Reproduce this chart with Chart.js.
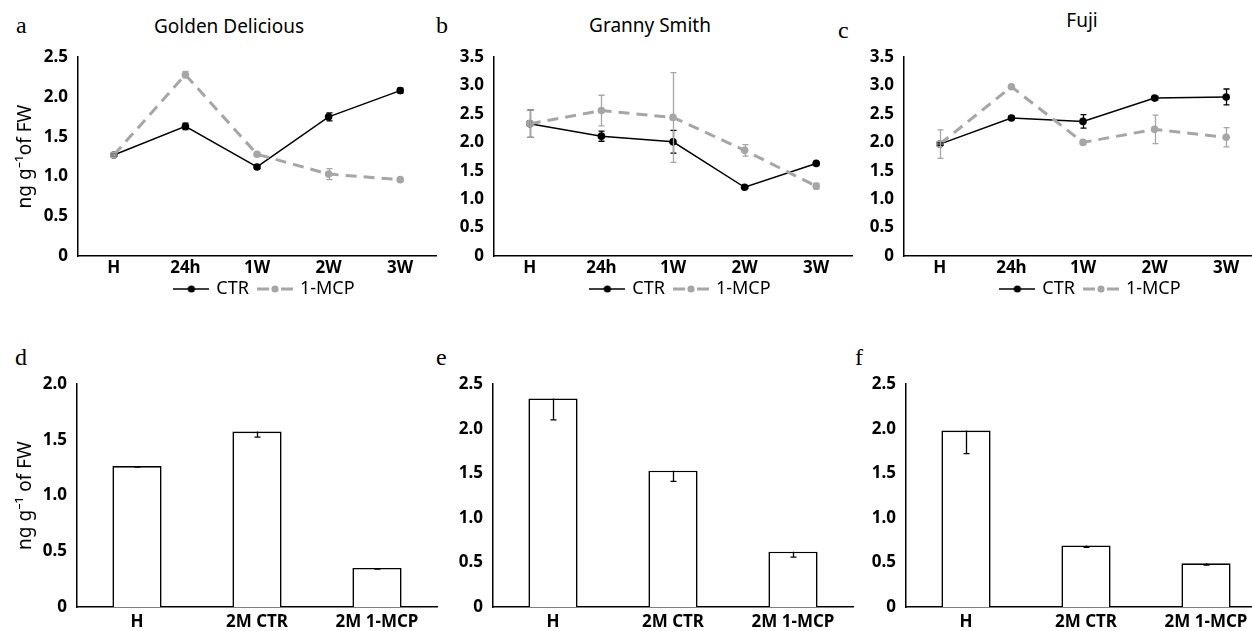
<!DOCTYPE html>
<html>
<head>
<meta charset="utf-8">
<script src="https://cdn.jsdelivr.net/npm/chart.js@4.4.0/dist/chart.umd.min.js"></script>
<style>
  html, body { margin: 0; padding: 0; background: #fff; width: 1252px; height: 631px; overflow: hidden; position: relative; }
  .panel { position: absolute; }
  .letter { position: absolute; font-family: 'Liberation Serif', serif; font-size: 24px; line-height: 1; color: #000; }
  .title { position: absolute; font-family: 'Noto Sans', sans-serif; font-size: 19px; line-height: 1; color: #000; transform: translateX(-50%); white-space: nowrap; }
</style>
</head>
<body>
<div class="letter" style="left:16px; top:13px;">a</div>
<div class="letter" style="left:436px; top:13px;">b</div>
<div class="letter" style="left:838px; top:18px;">c</div>
<div class="letter" style="left:15px; top:345px;">d</div>
<div class="letter" style="left:436px; top:345px;">e</div>
<div class="letter" style="left:855px; top:345px;">f</div>

<div class="title" style="left:229px; top:17px;">Golden Delicious</div>
<div class="title" style="left:650px; top:16px;">Granny Smith</div>
<div class="title" style="left:1082px; top:11px;">Fuji</div>

<canvas class="panel" id="chartA" width="440" height="283" style="left:0px; top:37px;"></canvas>
<canvas class="panel" id="chartB" width="440" height="283" style="left:416px; top:37px;"></canvas>
<canvas class="panel" id="chartC" width="440" height="283" style="left:826px; top:37px;"></canvas>
<canvas class="panel" id="chartD" width="441" height="267" style="left:0px; top:364px;"></canvas>
<canvas class="panel" id="chartE" width="441" height="267" style="left:416px; top:364px;"></canvas>
<canvas class="panel" id="chartF" width="441" height="267" style="left:829px; top:364px;"></canvas>

<script>
// ===== DATA =====
const timeLabels = ['H', '24h', '1W', '2W', '3W'];
const storeLabels = ['H', '2M CTR', '2M 1-MCP'];
const seriesNames = ['CTR', '1-MCP'];

// Golden Delicious
const gdCtr = [1.27, 1.63, 1.12, 1.75, 2.08];
const gdCtrErr = [0.01, 0.04, 0.02, 0.05, 0.03];
const gdMcp = [1.27, 2.28, 1.28, 1.03, 0.96];
const gdMcpErr = [0.01, 0.04, 0.02, 0.07, 0.02];

// Granny Smith
const gsCtr = [2.33, 2.11, 2.01, 1.21, 1.63];
const gsCtrErr = [0.24, 0.09, 0.20, 0.02, 0.02];
const gsMcp = [2.33, 2.56, 2.44, 1.86, 1.23];
const gsMcpErr = [0.24, 0.27, 0.79, 0.10, 0.05];

// Fuji
const fjCtr = [1.97, 2.43, 2.37, 2.78, 2.80];
const fjCtrErr = [0.02, 0.03, 0.12, 0.03, 0.14];
const fjMcp = [1.97, 2.98, 2.00, 2.23, 2.09];
const fjMcpErr = [0.25, 0.02, 0.03, 0.25, 0.17];

// sau 2 tháng bảo quản (bar)
const gdBar = [1.265, 1.575, 0.35];
const gdBarErr = [0.01, 0.05, 0.01];
const gsBar = [2.34, 1.53, 0.62];
const gsBarErr = [0.24, 0.12, 0.06];
const fjBar = [1.98, 0.69, 0.49];
const fjBarErr = [0.26, 0.02, 0.02];

const GRAY = '#a6a6a6';
const FONT = "'Noto Sans', sans-serif";

Chart.defaults.font.family = FONT;
Chart.defaults.color = '#000';
Chart.defaults.animation = false;

// ===== ERROR BARS =====
const errorBars = {
  id: 'errorBars',
  afterDatasetsDraw(chart) {
    const ctx = chart.ctx;
    const y = chart.scales.y;
    chart.data.datasets.forEach((ds, i) => {
      if (!ds.errors) return;
      const meta = chart.getDatasetMeta(i);
      ctx.save();
      ctx.strokeStyle = ds.errorColor;
      ctx.lineWidth = 1.3;
      ctx.setLineDash([]);
      meta.data.forEach((el, j) => {
        const v = ds.data[j], e = ds.errors[j];
        const top = ds.minusOnly ? y.getPixelForValue(v) : y.getPixelForValue(v + e);
        const bot = y.getPixelForValue(v - e);
        const x = Math.round(el.x) + 0.5;
        ctx.beginPath();
        ctx.moveTo(x, top); ctx.lineTo(x, bot);
        if (!ds.minusOnly) { ctx.moveTo(x - 3, top); ctx.lineTo(x + 3, top); }
        ctx.moveTo(x - 3, bot); ctx.lineTo(x + 3, bot);
        ctx.stroke();
      });
      ctx.restore();
    });
  }
};

// dời legend: sang phải + lên trên cho giống hình gốc
const legendShift = {
  id: 'legendShift',
  afterUpdate(chart) {
    const lg = chart.legend;
    if (lg && lg.options.display) {
      lg.left += 8; lg.right += 8;
      lg.top -= 12; lg.bottom -= 12;
    }
  }
};

// ký hiệu legend: đường + chấm
function makeMark(color, dashed) {
  const c = document.createElement('canvas');
  c.width = 36; c.height = 10;
  const g = c.getContext('2d');
  g.strokeStyle = color; g.fillStyle = color;
  g.beginPath();
  if (dashed) {
    g.lineWidth = 3;
    g.moveTo(0, 5); g.lineTo(12, 5);
    g.moveTo(24, 5); g.lineTo(36, 5);
  } else {
    g.lineWidth = 1.5;
    g.moveTo(0, 5); g.lineTo(36, 5);
  }
  g.stroke();
  g.beginPath(); g.arc(18, 5, 3.6, 0, Math.PI * 2); g.fill();
  return c;
}
const legendMarks = [makeMark('#000', false), makeMark(GRAY, true)];

function yTick(v) { return v === 0 ? '0' : v.toFixed(1); }

function yScale(max, title, width) {
  return {
    min: 0, max: max,
    ticks: { stepSize: 0.5, callback: yTick, font: { size: 17, weight: 'bold' }, color: '#000', padding: 10 },
    grid: { display: false, drawTicks: false },
    border: { color: '#000', width: 1.5 },
    title: title ? { display: true, text: title, font: { size: 19 }, color: '#000', padding: { top: 14, bottom: 0 } } : { display: false },
    afterFit: s => { s.width = width; }
  };
}

function xScale(height, pad) {
  return {
    offset: true,
    ticks: { font: { size: 17, weight: 'bold' }, color: '#000', padding: pad, maxRotation: 0 },
    grid: { display: false, drawTicks: false },
    border: { color: '#000', width: 1.5 },
    afterFit: s => { s.height = height; }
  };
}

// ===== LINE CHARTS =====
function lineChart(id, ctr, ctrErr, mcp, mcpErr, yMax, yTitle) {
  new Chart(document.getElementById(id), {
    type: 'line',
    data: {
      labels: timeLabels,
      datasets: [
        {
          label: seriesNames[0], data: ctr, errors: ctrErr, errorColor: '#000',
          borderColor: '#000', backgroundColor: '#000', borderWidth: 1.5,
          pointRadius: 3.8, pointBorderWidth: 0, order: 2
        },
        {
          label: seriesNames[1], data: mcp, errors: mcpErr, errorColor: GRAY,
          borderColor: GRAY, backgroundColor: GRAY, borderWidth: 3, borderDash: [11, 7],
          pointRadius: 3.8, pointBorderWidth: 0, order: 1
        }
      ]
    },
    options: {
      responsive: false,
      layout: { padding: { top: 12, right: 4, bottom: 0, left: 0 } },
      plugins: {
        tooltip: { enabled: false },
        legend: {
          position: 'bottom',
          fullSize: false,
          labels: {
            usePointStyle: true,
            pointStyleWidth: 32,
            padding: 10,
            font: { size: 18 },
            color: '#000',
            generateLabels: chart => chart.data.datasets.map((ds, i) => ({
              text: ds.label, pointStyle: legendMarks[i], fillStyle: ds.borderColor,
              strokeStyle: ds.borderColor, lineWidth: 0, hidden: false, datasetIndex: i, fontColor: '#000'
            }))
          }
        }
      },
      scales: { x: xScale(26, 2), y: yScale(yMax, yTitle, 78) }
    },
    plugins: [errorBars, legendShift]
  });
}

// ===== BAR CHARTS =====
function barChart(id, vals, errs, yMax, yTitle) {
  new Chart(document.getElementById(id), {
    type: 'bar',
    data: {
      labels: storeLabels,
      datasets: [{
        data: vals, errors: errs, errorColor: '#000', minusOnly: true,
        backgroundColor: '#fff', borderColor: '#000', borderWidth: 1.6,
        barPercentage: 0.41, categoryPercentage: 1
      }]
    },
    options: {
      responsive: false,
      layout: { padding: { top: 12, right: 4, bottom: 0, left: 0 } },
      plugins: { legend: { display: false }, tooltip: { enabled: false } },
      scales: { x: xScale(24, 5), y: yScale(yMax, yTitle, 77) }
    },
    plugins: [errorBars]
  });
}

document.addEventListener('DOMContentLoaded', () => {
  lineChart('chartA', gdCtr, gdCtrErr, gdMcp, gdMcpErr, 2.5, 'ng g\u207B\u00B9of FW');
  lineChart('chartB', gsCtr, gsCtrErr, gsMcp, gsMcpErr, 3.5, null);
  lineChart('chartC', fjCtr, fjCtrErr, fjMcp, fjMcpErr, 3.5, null);
  barChart('chartD', gdBar, gdBarErr, 2.0, 'ng g\u207B\u00B9 of FW');
  barChart('chartE', gsBar, gsBarErr, 2.5, null);
  barChart('chartF', fjBar, fjBarErr, 2.5, null);
});
</script>
</body>
</html>
